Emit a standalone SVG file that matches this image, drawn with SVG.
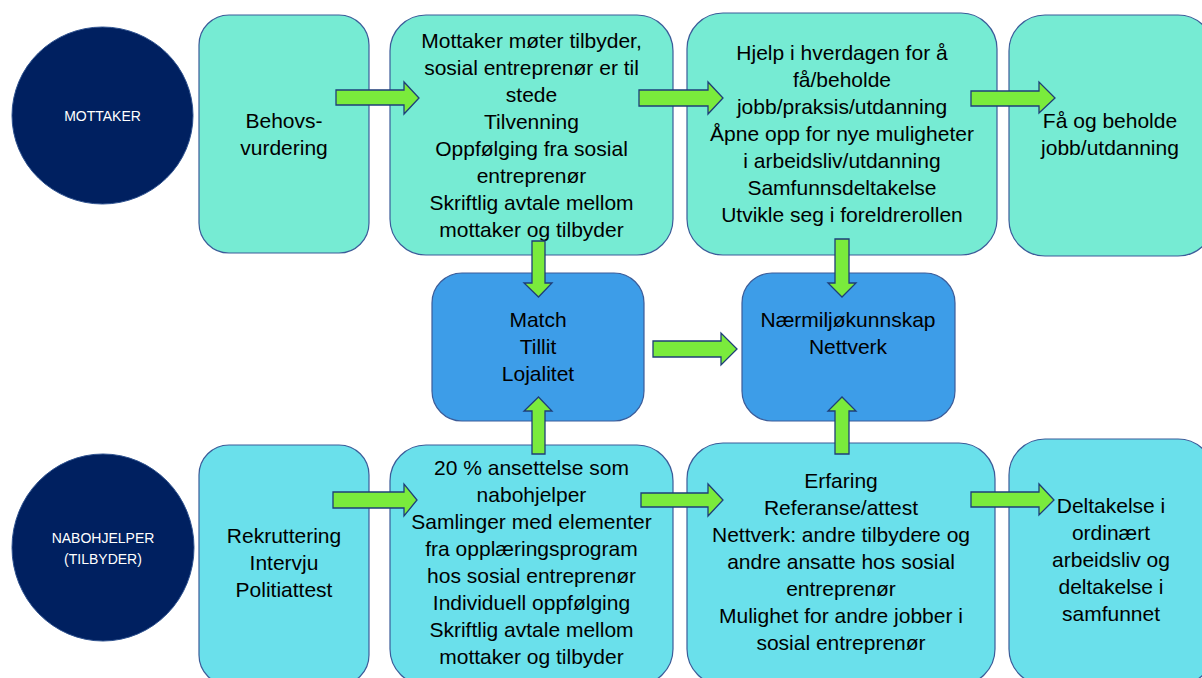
<svg xmlns="http://www.w3.org/2000/svg" width="1202" height="678" viewBox="0 0 1202 678">
<style>
.bg{fill:#ffffff}
.top{fill:#76EBD3;stroke:#3B5C99;stroke-width:1.2}
.bot{fill:#6AE0EB;stroke:#3B5C99;stroke-width:1.2}
.mid{fill:#3D9DE8;stroke:#3B5C99;stroke-width:1.2}
.circ{fill:#002060;stroke:#2F528F;stroke-width:1}
.arr{fill:#7AEB3C;stroke:#1F3E78;stroke-width:1.3;stroke-linejoin:miter}
.t{font-family:"Liberation Sans",Arial,sans-serif;font-size:21px;fill:#000000;text-anchor:middle}
.c{font-family:"Liberation Sans",Arial,sans-serif;font-size:14px;fill:#ffffff;text-anchor:middle}
</style>
<rect class="bg" x="0" y="0" width="1202" height="678"/>
<g id="mottaker">
<ellipse class="circ" cx="102.5" cy="115.5" rx="90.5" ry="88.5"/>
<text class="c" x="102.5" y="121">MOTTAKER</text>
</g>
<g id="nabohjelper">
<ellipse class="circ" cx="103" cy="547.5" rx="91" ry="93.5"/>
<text class="c" x="103" y="543">NABOHJELPER</text>
<text class="c" x="103" y="564">(TILBYDER)</text>
</g>
<g id="behov">
<rect class="top" x="199" y="15" width="170" height="238" rx="30"/>
<text class="t" x="284" y="128">Behovs-</text>
<text class="t" x="284" y="155">vurdering</text>
</g>
<g id="mote">
<rect class="top" x="390" y="15" width="283" height="240" rx="36"/>
<text class="t" x="531.5" y="48">Mottaker møter tilbyder,</text>
<text class="t" x="531.5" y="75">sosial entreprenør er til</text>
<text class="t" x="531.5" y="102">stede</text>
<text class="t" x="531.5" y="129">Tilvenning</text>
<text class="t" x="531.5" y="156">Oppfølging fra sosial</text>
<text class="t" x="531.5" y="183">entreprenør</text>
<text class="t" x="531.5" y="210">Skriftlig avtale mellom</text>
<text class="t" x="531.5" y="237">mottaker og tilbyder</text>
</g>
<g id="hjelp">
<rect class="top" x="687" y="13" width="310" height="242" rx="36"/>
<text class="t" x="842" y="60">Hjelp i hverdagen for å</text>
<text class="t" x="842" y="87">få/beholde</text>
<text class="t" x="842" y="114">jobb/praksis/utdanning</text>
<text class="t" x="842" y="141">Åpne opp for nye muligheter</text>
<text class="t" x="842" y="168">i arbeidsliv/utdanning</text>
<text class="t" x="842" y="195">Samfunnsdeltakelse</text>
<text class="t" x="842" y="222">Utvikle seg i foreldrerollen</text>
</g>
<g id="jobb">
<rect class="top" x="1009" y="15" width="205" height="241" rx="36"/>
<text class="t" x="1110" y="128">Få og beholde</text>
<text class="t" x="1110" y="155">jobb/utdanning</text>
</g>
<g id="match">
<rect class="mid" x="432" y="273" width="212" height="148" rx="30"/>
<text class="t" x="538" y="327">Match</text>
<text class="t" x="538" y="354">Tillit</text>
<text class="t" x="538" y="381">Lojalitet</text>
</g>
<g id="naermiljo">
<rect class="mid" x="742" y="273" width="213" height="148" rx="30"/>
<text class="t" x="848" y="327">Nærmiljøkunnskap</text>
<text class="t" x="848" y="354">Nettverk</text>
</g>
<g id="rekruttering">
<rect class="bot" x="199" y="445" width="170" height="240" rx="30"/>
<text class="t" x="284" y="543">Rekruttering</text>
<text class="t" x="284" y="570">Intervju</text>
<text class="t" x="284" y="597">Politiattest</text>
</g>
<g id="ansettelse">
<rect class="bot" x="390" y="445" width="283" height="240" rx="36"/>
<text class="t" x="531.5" y="475">20 % ansettelse som</text>
<text class="t" x="531.5" y="502">nabohjelper</text>
<text class="t" x="531.5" y="529">Samlinger med elementer</text>
<text class="t" x="531.5" y="556">fra opplæringsprogram</text>
<text class="t" x="531.5" y="583">hos sosial entreprenør</text>
<text class="t" x="531.5" y="610">Individuell oppfølging</text>
<text class="t" x="531.5" y="637">Skriftlig avtale mellom</text>
<text class="t" x="531.5" y="664">mottaker og tilbyder</text>
</g>
<g id="erfaring">
<rect class="bot" x="687" y="443" width="308" height="242" rx="36"/>
<text class="t" x="841" y="488">Erfaring</text>
<text class="t" x="841" y="515">Referanse/attest</text>
<text class="t" x="841" y="542">Nettverk: andre tilbydere og</text>
<text class="t" x="841" y="569">andre ansatte hos sosial</text>
<text class="t" x="841" y="596">entreprenør</text>
<text class="t" x="841" y="623">Mulighet for andre jobber i</text>
<text class="t" x="841" y="650">sosial entreprenør</text>
</g>
<g id="deltakelse">
<rect class="bot" x="1009" y="439" width="205" height="246" rx="36"/>
<text class="t" x="1111" y="513">Deltakelse i</text>
<text class="t" x="1111" y="540">ordinært</text>
<text class="t" x="1111" y="567">arbeidsliv og</text>
<text class="t" x="1111" y="594">deltakelse i</text>
<text class="t" x="1111" y="621">samfunnet</text>
</g>
<g id="connectors">
<polygon class="arr" points="336,90 404,90 404,82 419,98 404,114 404,105 336,105"/>
<polygon class="arr" points="639,90 708,90 708,82 723,98 708,114 708,106 639,106"/>
<polygon class="arr" points="971,91 1039,91 1039,82 1055,98 1039,113 1039,106 971,106"/>
<polygon class="arr" points="333,492 404,492 404,484 417,500 404,516 404,508 333,508"/>
<polygon class="arr" points="641,493 708,493 708,484 723,500 708,516 708,507 641,507"/>
<polygon class="arr" points="971,492 1039,492 1039,484 1054,500 1039,515 1039,507 971,507"/>
<polygon class="arr" points="653,341 721,341 721,333 737,349 721,365 721,357 653,357"/>
<polygon class="arr" points="532,241 545,241 545,283 552,283 538.5,297 524,283 532,283"/>
<polygon class="arr" points="835,239 849,239 849,283 856,283 842,297 828,283 835,283"/>
<polygon class="arr" points="532,454 545,454 545,411 552,411 538.5,397 524,411 532,411"/>
<polygon class="arr" points="835,454 849,454 849,411 856,411 842,397 828,411 835,411"/>
</g>
</svg>
